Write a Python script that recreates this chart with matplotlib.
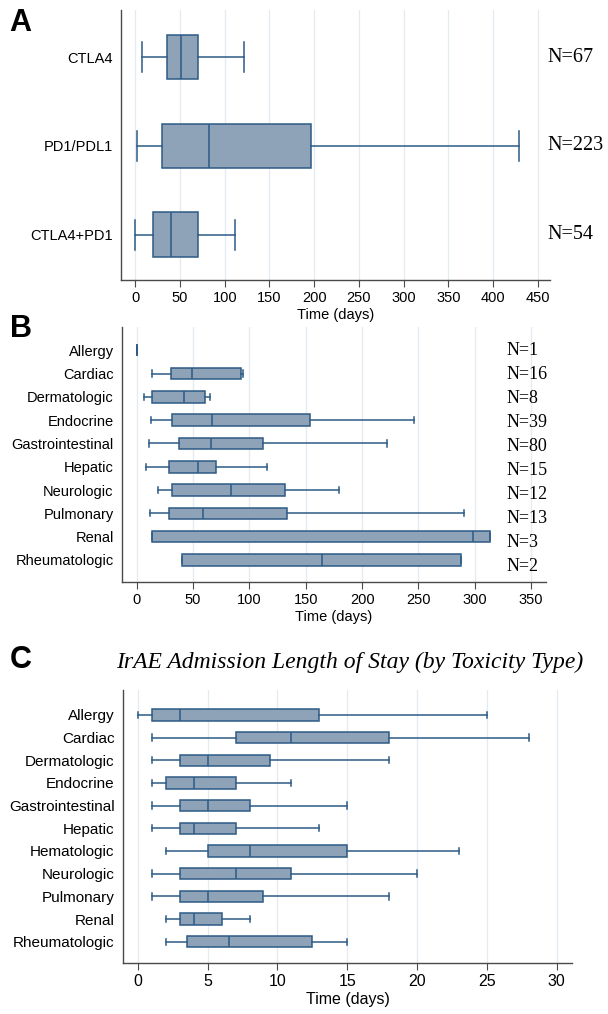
import matplotlib.pyplot as plt
import numpy as np

# panel A: days to irAE by treatment
a_groups = ["CTLA4", "PD1/PDL1", "CTLA4+PD1"]
a_n = ["N=67", "N=223", "N=54"]
a_lo = [8, 1.6, 0]
a_q1 = [36, 30, 20]
a_med = [51, 82, 40]
a_q3 = [70, 196, 70]
a_hi = [122, 429, 112]

# panel B: days to irAE by toxicity type
b_groups = ["Allergy", "Cardiac", "Dermatologic", "Endocrine", "Gastrointestinal",
            "Hepatic", "Neurologic", "Pulmonary", "Renal", "Rheumatologic"]
b_n = ["N=1", "N=16", "N=8", "N=39", "N=80", "N=15", "N=12", "N=13", "N=3", "N=2"]
b_lo = [0, 14, 6.5, 13, 11.3, 7.9, 19, 12, 13.4, 40.6]
b_q1 = [0, 30.6, 14, 31.6, 37.8, 28.5, 31.6, 28.5, 13.4, 40.6]
b_med = [0, 49.5, 41.6, 66.4, 65.7, 54.3, 83.6, 59, 298.5, 164.4]
b_q3 = [0, 92.5, 61, 154, 111.8, 70.8, 132, 133, 313.3, 288]
b_hi = [0, 94, 65, 246, 221.8, 115.5, 179.5, 290.6, 313.3, 288]

# panel C: length of stay by toxicity type
c_groups = ["Allergy", "Cardiac", "Dermatologic", "Endocrine", "Gastrointestinal",
            "Hepatic", "Hematologic", "Neurologic", "Pulmonary", "Renal", "Rheumatologic"]
c_lo = [0, 1, 1, 1, 1, 1, 2, 1, 1, 2, 2]
c_q1 = [1, 7, 3, 2, 3, 3, 5, 3, 3, 3, 3.5]
c_med = [3, 11, 5, 4, 5, 4, 8, 7, 5, 4, 6.5]
c_q3 = [13, 18, 9.5, 7, 8, 7, 15, 11, 9, 6, 12.5]
c_hi = [25, 28, 18, 11, 15, 13, 23, 20, 18, 8, 15]

fill = "#8fa3b8"
edge = "#2d5b86"
gridc = "#e4ecf1"
spinec = "#4a4a4a"
sans = "Liberation Sans"
serif = "Liberation Serif"


def stats(lo, q1, med, q3, hi):
    return [dict(whislo=a, q1=b, med=c, q3=d, whishi=e, fliers=[])
            for a, b, c, d, e in zip(lo, q1, med, q3, hi)]


def panel(ax, groups, st, cap, ticks, xlim, ylim, fs_tick, fs_lab):
    pos = np.arange(len(groups), 0, -1)
    ln = dict(color=edge, linewidth=1.1)
    ax.bxp(st, positions=pos, orientation="horizontal", widths=0.5, capwidths=cap,
           patch_artist=True, showfliers=False,
           boxprops=dict(facecolor=fill, edgecolor=edge, linewidth=1.1),
           medianprops=ln, whiskerprops=ln, capprops=ln)
    ax.set_xlim(*xlim)
    ax.set_ylim(*ylim)
    ax.set_xticks(ticks)
    ax.set_xticklabels([str(t) for t in ticks], fontsize=fs_tick, family=sans)
    ax.set_yticks(pos)
    ax.set_yticklabels(groups, fontsize=fs_lab, family=sans)
    ax.tick_params(axis="y", length=0, pad=6)
    ax.tick_params(axis="x", length=5, color=spinec, pad=3)
    for s in ["top", "right"]:
        ax.spines[s].set_visible(False)
    for s in ["left", "bottom"]:
        ax.spines[s].set_color(spinec)
        ax.spines[s].set_linewidth(1.0)
    ax.grid(axis="x", color=gridc, linewidth=1.0)
    ax.set_axisbelow(True)
    ax.set_xlabel("Time (days)", fontsize=fs_tick, family=sans, labelpad=2)
    return pos


fig = plt.figure(figsize=(6.08, 10.14), dpi=100)

axA = fig.add_axes([0.199, 0.724, 0.706, 0.266])
posA = panel(axA, a_groups, stats(a_lo, a_q1, a_med, a_q3, a_hi), 0.34,
             list(range(0, 451, 50)), (-16, 464), (0.49, 3.53), 10.5, 10.5)
for p, t in zip(posA, a_n):
    axA.text(461, p, t, fontsize=14.5, family=serif, va="center", ha="left")

axB = fig.add_axes([0.2007, 0.426, 0.697, 0.2515])
posB = panel(axB, b_groups, stats(b_lo, b_q1, b_med, b_q3, b_hi), 0.27,
             list(range(0, 351, 50)), (-13, 363), (0.05, 11.0), 10.5, 10.5)
for i, (p, t) in enumerate(zip(posB, b_n)):
    axB.text(328, p - 0.03 * i, t, fontsize=13, family=serif, va="center", ha="left")

axC = fig.add_axes([0.2023, 0.0503, 0.7387, 0.2692])
panel(axC, c_groups, stats(c_lo, c_q1, c_med, c_q3, c_hi), 0.28,
      list(range(0, 31, 5)), (-1.06, 31.1), (0.06, 12.1), 11.5, 11)

fig.text(0.576, 0.347, "IrAE Admission Length of Stay (by Toxicity Type)",
         fontsize=17, family=serif, style="italic", ha="center", va="center")

for lab, y in [("A", 0.977), ("B", 0.676), ("C", 0.349)]:
    fig.text(0.016, y, lab, fontsize=22, fontweight="bold", family=sans,
             ha="left", va="center")

fig.savefig("out.png", dpi=100)
